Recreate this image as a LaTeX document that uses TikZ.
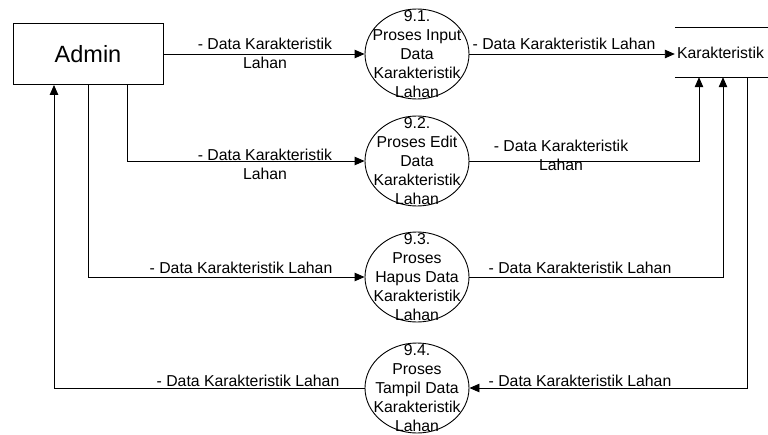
\documentclass[tikz,border=0pt]{standalone}
\usepackage{fontspec}
\setmainfont{Liberation Sans}
\usetikzlibrary{shapes.geometric,arrows.meta}
\begin{document}
\begin{tikzpicture}[x=1pt,y=-1pt,
  every node/.style={font=\fontsize{15.8}{19}\selectfont},
  line/.style={draw=black,line width=0.9pt},
  arr/.style={line,-{Triangle[length=10pt,width=8.5pt]}},
  proc/.style={ellipse,draw=black,line width=0.9pt,minimum width=104pt,minimum height=90pt,inner sep=0pt},
  ptext/.style={align=center,inner sep=0pt},
  lbl/.style={align=center,inner sep=0pt}
]
\useasboundingbox (0,0) rectangle (768,434);
\node[draw=black,line width=0.9pt,minimum width=150pt,minimum height=61pt,inner sep=0pt,font=\fontsize{23.5}{28}\selectfont] (admin) at (88,54) {Admin};
\node[proc] (p1) at (417,54) {};
\node[proc] (p2) at (417,161) {};
\node[proc] (p3) at (417,277) {};
\node[proc] (p4) at (417,388) {};
\node[ptext] (t1) at (p1) {9.1.\\Proses Input\\Data\\Karakteristik\\Lahan};
\node[ptext] (t2) at (p2) {9.2.\\Proses Edit\\Data\\Karakteristik\\Lahan};
\node[ptext] (t3) at (p3) {9.3.\\Proses\\Hapus Data\\Karakteristik\\Lahan};
\node[ptext] (t4) at (p4) {9.4.\\Proses\\Tampil Data\\Karakteristik\\Lahan};
\node[minimum width=93pt,minimum height=49pt,text width=89pt,align=left,inner xsep=2pt,inner ysep=0pt] (store) at (721.5,52.5) {Karakteristik};
\draw[line] (store.north west) -- (store.north east);
\draw[line] (store.south west) -- (store.south east);
% flows
\draw[arr] (admin.east) -- (p1.west);
\draw[arr] (p1.east) -- (p1.east -| store.west);
\draw[arr] ([xshift=39pt]admin.south) |- (p2.west);
\draw[arr] (admin.south) |- (p3.west);
\draw[arr] (p4.west) -| ([xshift=-34pt]admin.south);
\draw[arr] (p2.east) -| ([xshift=-22.5pt]store.south);
\draw[arr] (p3.east) -| ([xshift=1.5pt]store.south);
\draw[arr] ([xshift=25.5pt]store.south) |- (p4.east);
% labels
\node[lbl] (l1) at (265,53) {- Data Karakteristik\\Lahan};
\node[lbl] (l2) at (564,44) {- Data Karakteristik Lahan};
\node[lbl] (l3) at (265,164) {- Data Karakteristik\\Lahan};
\node[lbl] (l4) at (561,155) {- Data Karakteristik\\Lahan};
\node[lbl] (l5) at (241,268) {- Data Karakteristik Lahan};
\node[lbl] (l6) at (580,268) {- Data Karakteristik Lahan};
\node[lbl] (l7) at (248,381) {- Data Karakteristik Lahan};
\node[lbl] (l8) at (580,381) {- Data Karakteristik Lahan};
\end{tikzpicture}
\end{document}
